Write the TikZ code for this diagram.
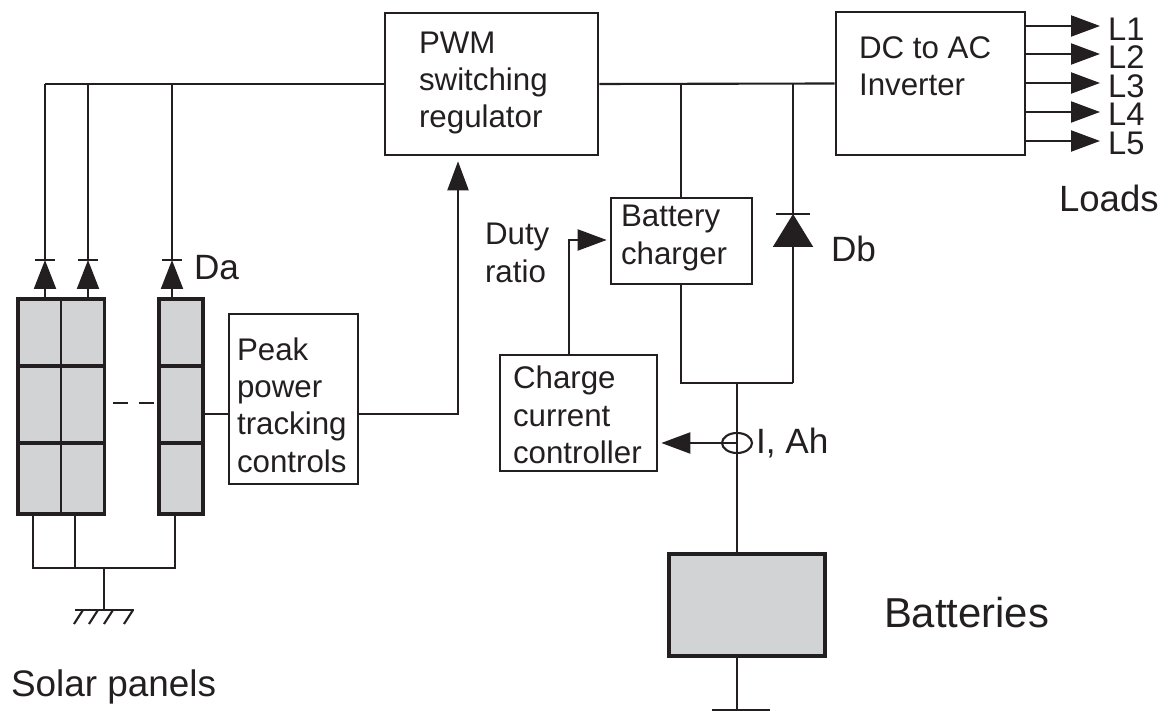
\documentclass[tikz,border=0pt]{standalone}
\usepackage{fontspec}
\setmainfont{Liberation Sans}
\usetikzlibrary{arrows.meta,shapes.geometric}
\definecolor{ink}{HTML}{231F20}
\definecolor{panelgray}{HTML}{D1D3D4}
\begin{document}
\begin{tikzpicture}[y=-1cm, color=ink, line width=0.6pt,
  box/.style = {draw, line width=0.75pt, inner sep=0pt},
  cell/.style = {draw, line width=0.6pt, fill=panelgray, inner sep=0pt},
  batt/.style = {draw, line width=1.1pt, fill=panelgray, inner sep=0pt},
  txt/.style = {font=\fontsize{8.9}{10.6}\selectfont, align=left, inner sep=0pt},
  big/.style = {font=\fontsize{10.4}{12}\selectfont, inner sep=0pt},
  feed/.style = {-{Triangle[length=0.29cm,width=0.21cm]}},
  diode/.style = {-{Triangle[length=0.29cm,width=0.22cm]}},
  bigdiode/.style = {-{Triangle[length=0.33cm,width=0.4cm]}}]
  \useasboundingbox (0,0) rectangle (11.7,7.11);
  % blocks
  \node[box, minimum width=2.13cm, minimum height=1.42cm] (pwm) at (4.915,0.84) {};
  \node[box, minimum width=1.89cm, minimum height=1.43cm] (inv) at (9.305,0.835) {};
  \node[box, minimum width=1.41cm, minimum height=0.86cm] (chg) at (6.815,2.41) {};
  \node[box, minimum width=1.57cm, minimum height=1.16cm] (ctl) at (5.785,4.13) {};
  \node[box, minimum width=1.29cm, minimum height=1.70cm] (pk) at (2.935,3.99) {};
  \node[batt, minimum width=1.56cm, minimum height=1.02cm] (bat) at (7.47,6.05) {};
  \node[txt, anchor=west] at (4.18,0.83) {PWM\\switching\\regulator};
  \node[txt, anchor=west] at (8.58,0.66) {DC to AC\\Inverter};
  \node[txt, anchor=west] at (6.20,2.38) {Battery\\charger};
  \node[txt, anchor=west] at (5.12,4.15) {Charge\\current\\controller};
  \node[txt, anchor=west] at (2.36,4.05) {Peak\\power\\tracking\\controls};
  \node[txt, anchor=west] at (4.84,2.53) {Duty\\ratio};
  % solar panels
  \foreach \row/\y/\h in {1/3.335/0.67, 2/4.055/0.77, 3/4.785/0.69} {
    \node[cell, minimum width=0.425cm, minimum height=\h cm] (a\row) at (0.40,\y) {};
    \node[cell, minimum width=0.425cm, minimum height=\h cm] (b\row) at (0.825,\y) {};
    \node[cell, minimum width=0.43cm, minimum height=\h cm] (c\row) at (1.81,\y) {};
  }
  \draw[line width=0.95pt] (a1.north west) rectangle (b3.south east);
  \draw[line width=0.95pt] (c1.north west) rectangle (c3.south east);
  \foreach \row in {2,3} {
    \draw[line width=0.85pt] (a\row.north west) -- (b\row.north east);
    \draw[line width=0.85pt] (c\row.north west) -- (c\row.north east);
  }
  \coordinate (da) at (0.45,2.6);
  \coordinate (db) at (0.88,2.6);
  \coordinate (dc) at (1.72,2.6);
  \coordinate (busa) at (0.45,0.84);
  \coordinate (busb) at (0.88,0.84);
  \coordinate (busc) at (1.72,0.84);
  \draw[diode] (da |- a1.north) -- (da);
  \draw[diode] (db |- b1.north) -- (db);
  \draw[diode] (dc |- c1.north) -- (dc);
  \draw (da) -- (busa);
  \draw (db) -- (busb);
  \draw (dc) -- (busc);
  \foreach \d in {da,db,dc} \draw ([xshift=-0.1cm]\d) -- ([xshift=0.1cm]\d);
  \draw[dash pattern=on 0.15cm off 0.11cm] (1.13,4.03) -- (1.54,4.03);
  \node[big, anchor=west, font=\fontsize{10}{12}\selectfont] at (1.93,2.68) {Da};
  % ground
  \coordinate (gnd) at (1.04,6.10);
  \coordinate (join) at (1.04,5.68);
  \coordinate (wa) at (0.33,5.68);
  \coordinate (wb) at (0.75,5.68);
  \coordinate (wc) at (1.75,5.68);
  \draw (wa |- a3.south) -- (wa) -- (wc) -- (wc |- c3.south);
  \draw (wb |- b3.south) -- (wb);
  \draw (join) -- (gnd);
  \draw ([xshift=-0.29cm]gnd) -- ([xshift=0.30cm]gnd);
  \foreach \s in {-0.21,-0.06,0.09,0.29}
    \draw ([xshift=\s cm]gnd) -- ([xshift=\s cm-0.09cm, yshift=-0.14cm]gnd);
  \node[big, anchor=west, font=\fontsize{10.5}{12}\selectfont] at (0.10,6.87) {Solar panels};
  % main bus
  \draw (busa) -- (pwm.west);
  \draw (pwm.east) -- (inv.west);
  \coordinate (jl) at (6.81,3.83);
  \coordinate (jr) at (7.93,3.83);
  \coordinate (jm) at (7.37,3.83);
  \coordinate (dd) at (7.93,2.14);
  \draw (jl |- pwm.east) -- (chg.north -| jl);
  \draw (chg.south -| jl) -- (jl) -- (jr);
  \draw[bigdiode] (jr) -- (dd);
  \draw (dd) -- (jr |- pwm.east);
  \draw ([xshift=-0.17cm]dd) -- ([xshift=0.17cm]dd);
  \node[big, anchor=west, font=\fontsize{10}{12}\selectfont] at (8.30,2.49) {Db};
  % tracking and charge control
  \coordinate (up) at (4.58,4.14);
  \draw (c2.east |- up) -- (pk.west |- up);
  \draw[feed] (pk.east |- up) -- (up) -- ([yshift=-0.05cm]pwm.south -| up);
  \coordinate (elbow) at (5.69,2.40);
  \draw[feed] (ctl.north -| elbow) -- (elbow) -- ([xshift=-0.03cm]chg.west |- elbow);
  % current sensor
  \node[draw, ellipse, minimum width=0.30cm, minimum height=0.2cm, inner sep=0pt] (sns) at (7.37,4.43) {};
  \draw (jm) -- (bat.north -| jm);
  \coordinate (sc) at (7.37,4.43);
  \draw[feed] (sc) -- ([xshift=0.03cm]ctl.east |- sc);
  \node[big, anchor=west, font=\fontsize{10}{12}\selectfont] at (7.55,4.43) {I, Ah};
  % battery
  \coordinate (btm) at (7.37,7.10);
  \draw (bat.south -| btm) -- (btm);
  \draw ([xshift=-0.25cm]btm) -- ([xshift=0.33cm]btm);
  \node[big, anchor=west, font=\fontsize{11.9}{14}\selectfont] at (8.83,6.13) {Batteries};
  % loads
  \foreach \n/\y/\t in {1/0.26/0.29, 2/0.54/0.575, 3/0.83/0.86, 4/1.12/1.145, 5/1.41/1.43} {
    \coordinate (o\n) at (11.0,\y);
    \draw[feed] (inv.east |- o\n) -- (o\n);
    \node[big, anchor=west, font=\fontsize{9.3}{10}\selectfont] (l\n) at (11.07,\t) {L\n};
  }
  \node[big, anchor=west] at (10.58,1.98) {Loads};
\end{tikzpicture}
\end{document}
